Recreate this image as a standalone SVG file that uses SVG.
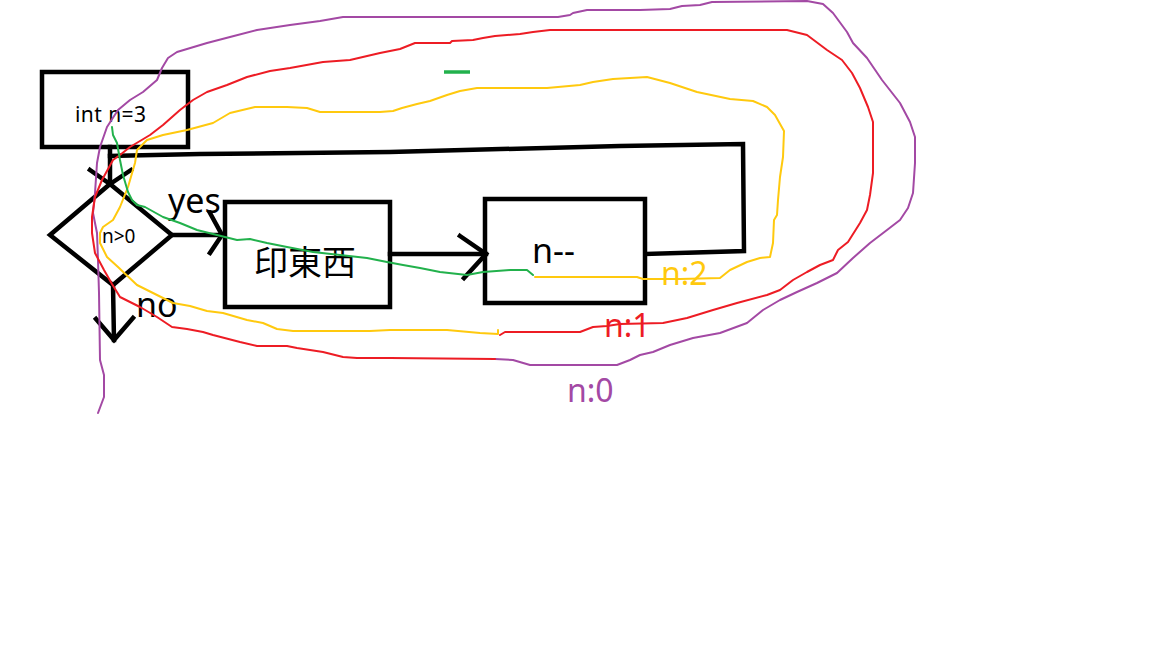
<svg xmlns="http://www.w3.org/2000/svg" width="1152" height="648" viewBox="0 0 1152 648">
<style>
.blk{fill:none;stroke:#000;stroke-width:4.5;stroke-linejoin:miter;stroke-linecap:square}
.box{fill:#fff;stroke:#000;stroke-width:4.5}
.t{font-family:"Noto Sans","Open Sans","Noto Sans CJK TC",sans-serif;fill:#000}
.cjk{font-family:"Noto Sans CJK TC","Noto Sans CJK SC",sans-serif;fill:#000}
.c{fill:none;stroke-width:2;stroke-linejoin:round;stroke-linecap:round}
.pu{stroke:#a349a4}.rd{stroke:#ed1c24}.ye{stroke:#ffc90e}.gr{stroke:#22b14c}
</style>
<rect width="1152" height="648" fill="#fff"/>
<g id="n-init"><rect class="box" x="42" y="72" width="146" height="75"/><text class="t" x="75" y="122" font-size="21" textLength="71">int n=3</text></g>
<g id="n-cond"><polygon class="box" points="110,184 172,235 113,285 50,235"/><text class="t" x="102" y="243" font-size="19">n&gt;0</text></g>
<g id="n-print"><rect class="box" x="225" y="202" width="165" height="105"/><text class="cjk" x="254" y="275" font-size="34">印東西</text></g>
<g id="n-dec"><rect class="box" x="485" y="199" width="160" height="104"/><text class="t" x="532" y="263" font-size="34">n--</text></g>
<g id="connectors">
<polyline class="blk" points="110,147 110,184"/>
<polyline class="blk" points="90,170 110,184 131,170"/>
<polyline class="blk" points="172,235 223,235"/>
<polyline class="blk" points="210,213 222,235 210,253"/>
<polyline class="blk" points="390,254 486,254"/>
<polyline class="blk" points="460,236 486,254 464,278"/>
<polyline class="blk" points="113,285 114,340"/>
<polyline class="blk" points="96,319 114,340 133,318"/>
<polyline class="blk" points="646,254 744,251 743,144 620,146 390,152 200,154 110,156"/>
<text class="t" x="168" y="213" font-size="34">yes</text>
<text class="t" x="136" y="317" font-size="34">no</text>
</g>
<g id="trace">
<polyline class="c pu" points="98,413 104,397 104,375 100,360 99,293 98,260 97,233 93,213 95,193 97,163 100,147 107,127 118,110 130,100 143,92 157,80 162,68 168,58 177,52 207,43 230,37 257,30 290,25 320,21 343,17 390,17 558,17 570,15 573,13 587,10 640,10 670,9 682,6 700,5 712,2 807,1 823,4 833,13 847,32 853,43 867,58 882,80 900,103 910,122 915,137 915,163 913,193 908,208 900,220 887,230 870,243 853,258 837,273 817,283 797,292 780,300 763,310 747,323 720,333 693,338 670,345 653,352 640,355 630,360 617,365 530,365 513,360 495,359"/>
<polyline class="c rd" points="495,359 390,358 357,358 343,357 323,352 297,348 287,346 257,346 240,342 213,335 203,332 187,329 172,327 157,317 140,307 120,297 112,284 104,270 95,253 92,233 92,217 95,197 102,180 113,160 120,155 130,147 150,135 163,125 180,110 193,100 207,92 227,85 247,77 270,71 290,68 323,62 350,60 380,53 400,49 415,43 450,43 452,41 473,40 483,38 495,36 520,34 533,32 550,30 620,30 787,30 807,35 827,50 842,60 852,73 860,88 868,107 873,122 873,173 870,195 867,210 860,223 848,242 838,250 833,260 820,265 807,272 793,280 780,290 767,295 737,303 713,310 687,318 663,323 620,324 607,326 593,327 580,332 505,332 500,335"/>
<polyline class="c ye" points="498,330 498,334 480,333 447,330 390,330 370,331 293,331 277,329 263,323 247,320 223,313 207,311 190,306 173,303 157,295 137,285 118,267 107,257 100,243 100,233 103,227 113,220 120,207 128,187 135,163 137,150 147,140 163,135 187,130 213,123 230,113 255,107 287,107 307,108 320,112 380,112 393,111 402,108 417,104 430,101 447,95 460,91 477,88 547,88 580,85 593,82 613,79 647,77 670,83 697,92 730,99 753,101 767,107 775,115 784,131 783,157 780,177 778,200 777,215 774,220 773,243 770,257 760,258 747,262 730,270 720,278 680,279 647,279 643,279 637,277 535,277"/>
<polyline class="c gr" points="112,127 113,135 117,143 120,160 123,175 128,192 132,200 137,205 145,207 163,217 180,223 197,230 217,235 237,240 250,239 267,243 287,247 313,252 340,255 367,258 387,262 403,265 420,268 440,272 467,275 483,272 510,270 527,270 533,275"/>
<line x1="444" y1="72" x2="470" y2="72" stroke="#22b14c" stroke-width="3.5"/>
<text class="t" x="661" y="285" font-size="32" style="fill:#ffc90e">n:2</text>
<text class="t" x="604" y="337" font-size="32" style="fill:#ed1c24">n:1</text>
<text class="t" x="567" y="402" font-size="32" style="fill:#a349a4">n:0</text>
</g>
</svg>
